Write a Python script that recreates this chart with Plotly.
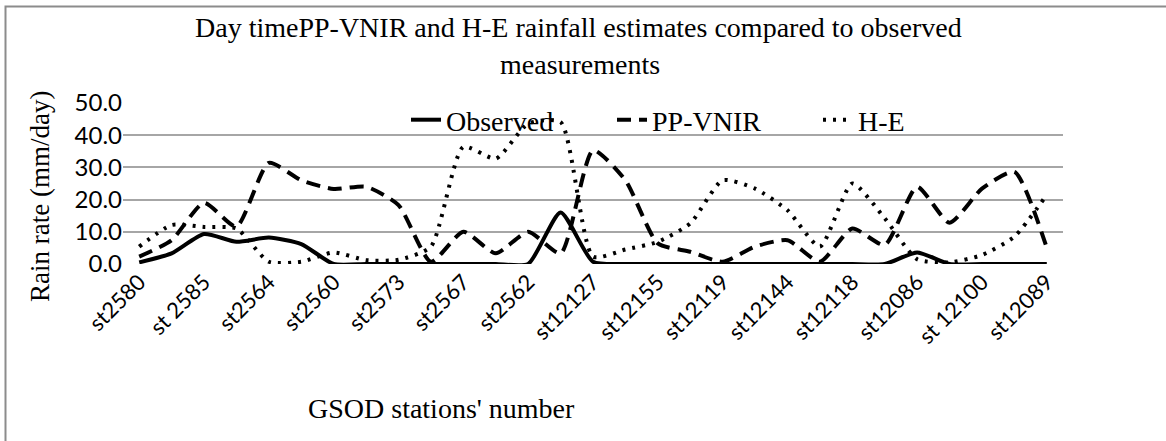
import plotly.graph_objects as go

# Station labels shown on the x axis (every second sample position)
stations = ["st2580", "st 2585", "st2564", "st2560", "st2573", "st2567", "st2562",
            "st12127", "st12155", "st12119", "st12144", "st12118", "st12086",
            "st 12100", "st12089"]

# Sample positions along the x axis (29 samples)
positions = list(range(29))

# Rain rate series (mm/day)
observed = [0.5, 3.3, 9.3, 6.9, 8.2, 6.2, 0.0, 0.0, 0.0, 0.0, 0.0, 0.0, 0.0, 16.0, 0.7,
            0.0, 0.0, 0.0, 0.0, 0.0, 0.0, 0.0, 0.0, 0.0, 3.6, 0.0, 0.0, 0.0, 0.0]
pp_vnir = [2.3, 7.4, 19.0, 11.6, 31.4, 26.0, 23.3, 24.0, 18.3, 0.7, 10.0, 3.3, 10.0, 3.3, 35.3,
           26.0, 6.4, 3.8, 0.7, 5.4, 7.4, 0.7, 11.0, 5.9, 24.0, 12.8, 23.4, 28.6, 5.0]
h_e = [5.4, 12.1, 11.5, 11.0, 0.7, 0.7, 3.6, 1.2, 1.3, 5.4, 36.4, 32.7, 43.6, 44.1, 2.3,
       4.5, 6.9, 12.6, 26.0, 23.4, 16.7, 5.4, 25.0, 14.2, 1.5, 0.5, 2.8, 8.5, 21.5]

serif = "Liberation Serif"
sans = "Lato"
SMOOTH = 0.6

fig = go.Figure()
fig.add_trace(go.Scatter(x=positions, y=observed, name="Observed", mode="lines",
                         line=dict(color="black", width=4, shape="spline", smoothing=SMOOTH)))
fig.add_trace(go.Scatter(x=positions, y=pp_vnir, name="PP-VNIR", mode="lines",
                         line=dict(color="black", width=4, dash="14px,8px",
                                   shape="spline", smoothing=SMOOTH)))
fig.add_trace(go.Scatter(x=positions, y=h_e, name="H-E", mode="lines",
                         line=dict(color="black", width=4, dash="3px,7px",
                                   shape="spline", smoothing=SMOOTH)))

fig.update_layout(
    width=1166, height=441, autosize=False,
    margin=dict(l=123, r=103, t=103, b=177),
    paper_bgcolor="white", plot_bgcolor="white",
    showlegend=True,
    legend=dict(orientation="h", x=(406 - 123) / 940, xanchor="left",
                y=(264 - 120) / 161, yanchor="middle",
                font=dict(family=serif, size=28, color="black"),
                bgcolor="rgba(0,0,0,0)", entrywidth=161, entrywidthmode="pixels",
                traceorder="normal"),
    xaxis=dict(range=[-0.5, 28.5], tickmode="array",
               tickvals=positions[::2], ticktext=stations, tickangle=-45,
               showgrid=False, zeroline=False, showline=False, ticks="",
               tickfont=dict(family=sans, size=22, color="black")),
    yaxis=dict(range=[0, 50], tickmode="array", tickvals=[0, 10, 20, 30, 40, 50],
               ticktext=["0.0", "10.0", "20.0", "30.0", "40.0", "50.0"],
               showgrid=True, gridcolor="#a6a6a6", gridwidth=1.5,
               zeroline=False, showline=False, ticks="",
               tickfont=dict(family=sans, size=24, color="black")),
)

# Title lines, axis titles
fig.add_annotation(text="Day timePP-VNIR and H-E rainfall estimates compared to observed",
                   xref="paper", yref="paper", x=(578 - 123) / 940, y=(264 - 28) / 161,
                   showarrow=False, xanchor="center", yanchor="middle",
                   font=dict(family=serif, size=28, color="black"))
fig.add_annotation(text="measurements",
                   xref="paper", yref="paper", x=(580 - 123) / 940, y=(264 - 64) / 161,
                   showarrow=False, xanchor="center", yanchor="middle",
                   font=dict(family=serif, size=28, color="black"))
fig.add_annotation(text="Rain rate (mm/day)", textangle=-90,
                   xref="paper", yref="paper", x=(40 - 123) / 940, y=(264 - 197) / 161,
                   showarrow=False, xanchor="center", yanchor="middle",
                   font=dict(family=serif, size=27, color="black"))
fig.add_annotation(text="GSOD stations' number",
                   xref="paper", yref="paper", x=(441 - 123) / 940, y=(264 - 408) / 161,
                   showarrow=False, xanchor="center", yanchor="middle",
                   font=dict(family=serif, size=28, color="black"))

# Chart frame
fig.add_shape(type="rect", xref="paper", yref="paper",
              x0=(5.5 - 123) / 940, x1=(1180 - 123) / 940,
              y0=(264 - 460) / 161, y1=(264 - 6.5) / 161,
              line=dict(color="#8c8c8c", width=2), fillcolor="rgba(0,0,0,0)", layer="below")

fig.write_html("out.html")
